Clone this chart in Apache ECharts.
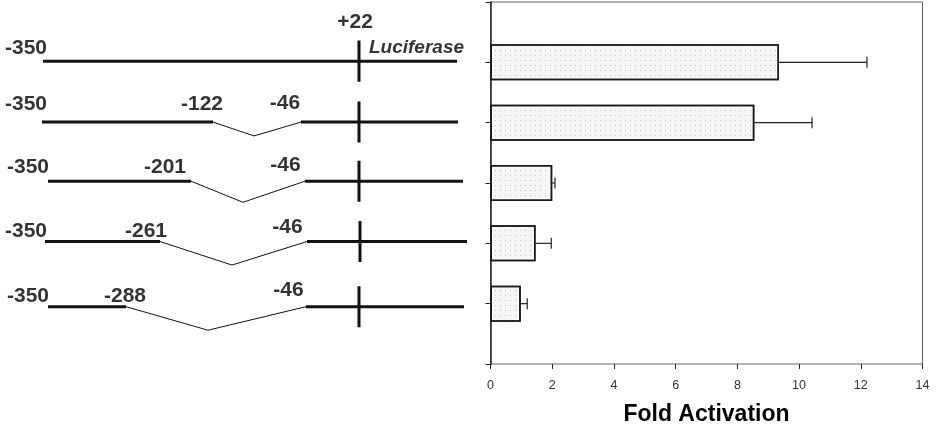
<!DOCTYPE html>
<html>
<head>
<meta charset="utf-8">
<script src="https://cdn.jsdelivr.net/npm/echarts@6/dist/echarts.min.js"></script>
<style>
  html, body { margin: 0; padding: 0; background: #fff; }
  #chart { width: 938px; height: 428px; }
</style>
</head>
<body>
<div id="chart"></div>
<script>
// bar chart: fold activation per construct (top to bottom)
const constructs = ['-350/+22', '-350/-122..-46/+22', '-350/-201..-46/+22', '-350/-261..-46/+22', '-350/-288..-46/+22']
const foldActivation = [9.35, 8.55, 2.0, 1.46, 0.98]
const errorHigh = [12.2, 10.42, 2.09, 1.97, 1.19]
const xTicks = [0, 2, 4, 6, 8, 10, 12, 14]

// construct schematic (hand drawn, schematic units along the promoter)
const rowY = [0.98, 1.99, 2.97, 3.97, 5.05]
const armStart = [43, 42, 48, 45, 48]
const cutLeft = [null, 213, 191, 160, 126]
const loopX = [null, 254, 243, 232, 208]
const loopY = [null, 2.22, 3.32, 4.36, 5.44]
const cutRight = [null, 301, 305, 307, 306]
const armEnd = [457, 458, 463, 467, 464]
const markerX = [359, 359, 359, 360, 359]

// breakpoint labels: [x, y, text]
const startLabels = [[26, 0.76, '-350'], [26, 1.69, '-350'], [28, 2.74, '-350'], [26, 3.8, '-350'], [28, 4.87, '-350']]
const cutLeftLabels = [[202, 1.7, '-122'], [165, 2.73, '-201'], [146, 3.8, '-261'], [125, 4.87, '-288']]
const cutRightLabels = [[285, 1.67, '-46'], [285.5, 2.71, '-46'], [287.5, 3.73, '-46'], [288.5, 4.78, '-46']]
const startSiteLabel = [355, 0.34, '+22']
const reporterLabel = [416.5, 0.76, 'Luciferase']

const chart = echarts.init(document.getElementById('chart'))

const ink = '#000'
const font = 'Liberation Sans, Arial, sans-serif'

const seg = (pts, width) => ({
  type: 'line',
  xAxisIndex: 0,
  yAxisIndex: 0,
  data: pts,
  symbol: 'none',
  silent: true,
  animation: false,
  lineStyle: { color: '#111', width: width }
})

const schematic = []
rowY.forEach((y, i) => {
  if (cutLeft[i] === null) {
    schematic.push(seg([[armStart[i], y], [armEnd[i], y]], 3))
  } else {
    schematic.push(seg([[armStart[i], y], [cutLeft[i], y]], 3))
    schematic.push(seg([[cutLeft[i], y], [loopX[i], loopY[i]], [cutRight[i], y]], 1))
    schematic.push(seg([[cutRight[i], y], [armEnd[i], y]], 3))
  }
  schematic.push(seg([[markerX[i], y - 0.34], [markerX[i], y + 0.34]], 3))
})

const labelData = startLabels.concat(cutLeftLabels, cutRightLabels, [startSiteLabel])
  .map(d => ({ value: d }))
labelData.push({ value: reporterLabel, label: { fontStyle: 'italic', fontSize: 19 } })

const option = {
  backgroundColor: '#fff',
  animation: false,
  grid: [
    { left: 0, top: 2, width: 470, height: 362, outerBoundsMode: 'none' },
    {
      left: 490.5, right: 15.5, top: 2, bottom: 64,
      outerBoundsMode: 'none',
      show: true, borderColor: '#666', borderWidth: 1, backgroundColor: 'transparent'
    }
  ],
  xAxis: [
    { gridIndex: 0, type: 'value', min: 0, max: 470, show: false },
    {
      gridIndex: 1, type: 'value', min: 0, max: 14, interval: 2,
      splitLine: { show: false },
      axisLine: { lineStyle: { color: '#222', width: 1.5 } },
      axisTick: { show: true, length: 5, lineStyle: { color: '#222' } },
      axisLabel: { color: '#333', fontSize: 12.5, margin: 15, fontFamily: font },
      name: 'Fold Activation',
      nameLocation: 'middle',
      nameGap: 39,
      nameTextStyle: { color: ink, fontSize: 23, fontWeight: 'bold', fontFamily: font }
    }
  ],
  yAxis: [
    { gridIndex: 0, type: 'value', min: 0, max: 6, inverse: true, show: false },
    {
      gridIndex: 1, type: 'category', inverse: true, boundaryGap: false,
      data: [''].concat(constructs, ['']),
      axisLine: { lineStyle: { color: '#222', width: 1.5 } },
      axisTick: { show: true, length: 5, lineStyle: { color: '#222' } },
      axisLabel: { show: false },
      splitLine: { show: false }
    }
  ],
  series: schematic.concat([
    {
      type: 'scatter',
      xAxisIndex: 0,
      yAxisIndex: 0,
      symbolSize: 0,
      silent: true,
      data: labelData,
      label: {
        show: true,
        position: 'inside',
        formatter: p => p.value[2],
        color: ink,
        fontSize: 21,
        fontWeight: 'bold',
        fontFamily: font
      }
    },
    {
      type: 'bar',
      xAxisIndex: 1,
      yAxisIndex: 1,
      barWidth: 36,
      data: [null].concat(foldActivation, [null]),
      itemStyle: {
        color: '#f6f6f6',
        borderColor: '#1a1a1a',
        borderWidth: 1.5,
        decal: {
          symbol: 'rect',
          symbolSize: 1,
          color: '#c4c4c4',
          dashArrayX: [1, 4],
          dashArrayY: [1, 4],
          rotation: 0
        }
      }
    },
    {
      type: 'custom',
      xAxisIndex: 1,
      yAxisIndex: 1,
      silent: true,
      data: foldActivation.map((v, i) => [i + 1, v, errorHigh[i]]),
      encode: { x: [1, 2], y: 0 },
      renderItem: (params, api) => {
        const a = api.coord([api.value(1), api.value(0)])
        const b = api.coord([api.value(2), api.value(0)])
        return {
          type: 'group',
          children: [
            { type: 'line', shape: { x1: a[0], y1: a[1], x2: b[0], y2: b[1] }, style: { stroke: '#222', lineWidth: 1.2 } },
            { type: 'line', shape: { x1: b[0], y1: b[1] - 5.5, x2: b[0], y2: b[1] + 5.5 }, style: { stroke: '#222', lineWidth: 1.2 } }
          ]
        }
      }
    }
  ])
}

chart.setOption(option)
</script>
</body>
</html>
